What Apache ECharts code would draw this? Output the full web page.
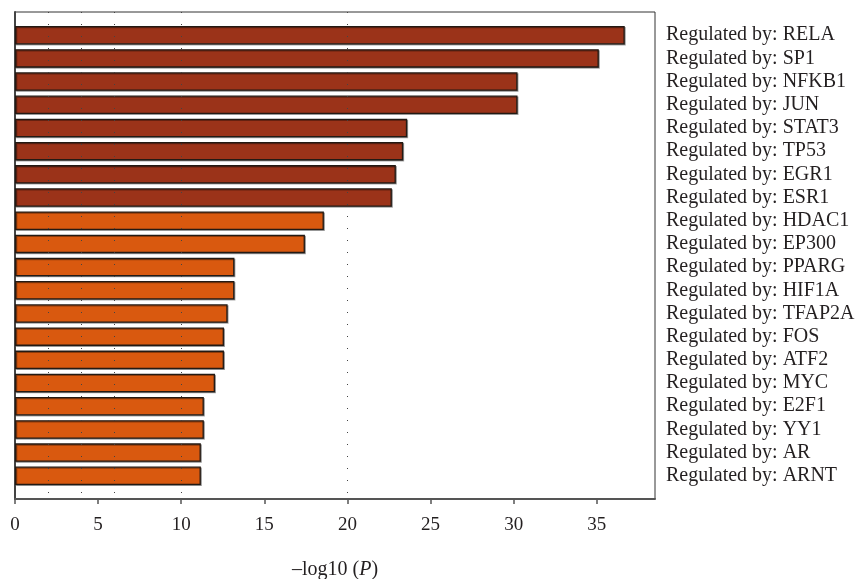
<!DOCTYPE html>
<html>
<head>
<meta charset="utf-8">
<script src="https://cdn.jsdelivr.net/npm/echarts@6/dist/echarts.min.js"></script>
<style>html,body{margin:0;padding:0;background:#fff;}#c{width:863px;height:579px;}</style>
</head>
<body>
<div id="c"></div>
<script>
var regulators = ['RELA','SP1','NFKB1','JUN','STAT3','TP53','EGR1','ESR1','HDAC1','EP300','PPARG','HIF1A','TFAP2A','FOS','ATF2','MYC','E2F1','YY1','AR','ARNT'];
var values = [36.68, 35.12, 30.23, 30.23, 23.59, 23.35, 22.91, 22.67, 18.58, 17.44, 13.2, 13.2, 12.79, 12.57, 12.57, 12.03, 11.36, 11.36, 11.18, 11.18];
var groups = [1,1,1,1,1,1,1,1,2,2,2,2,2,2,2,2,2,2,2,2];
var gridLineValues = [2, 4, 6, 10, 20];
var xTicks = [0, 5, 10, 15, 20, 25, 30, 35];

var groupColors = {1: '#9B3319', 2: '#D9590F'};
var cats = [''].concat(regulators.map(function(r){ return 'Regulated by: ' + r; })).concat(['']);
var barData = [{value: '-'}].concat(values.map(function(v, i){
  return {value: v, itemStyle: {color: groupColors[groups[i]]}};
})).concat([{value: '-'}]);

var font = '"Liberation Serif", "DejaVu Serif", serif';
var chart = echarts.init(document.getElementById('c'), null, {renderer: 'canvas'});
chart.setOption({
  animation: false,
  backgroundColor: '#fff',
  grid: {left: 15, right: 208, top: 12, bottom: 80, show: true, borderColor: '#333', borderWidth: 1, containLabel: false, outerBoundsMode: 'none'},
  xAxis: {
    type: 'value', min: 0, max: 38.5, interval: 5,
    axisLine: {show: true, lineStyle: {color: '#555', width: 2}},
    axisTick: {show: true, length: 5, lineStyle: {color: '#555', width: 1.5}},
    axisLabel: {fontFamily: font, fontSize: 19, color: '#231f20', margin: 17,
      formatter: function(v){ return xTicks.indexOf(v) >= 0 ? String(v) : ''; }, showMaxLabel: false},
    splitLine: {show: false},
    name: '{n|\u2013log10 (}{i|P}{n|)}',
    nameLocation: 'middle', nameGap: 61,
    nameTextStyle: {rich: {
      n: {fontFamily: font, fontSize: 20, color: '#231f20'},
      i: {fontFamily: font, fontSize: 20, color: '#231f20', fontStyle: 'italic'}
    }}
  },
  yAxis: [{
    type: 'category', data: cats, inverse: true, boundaryGap: false, position: 'right',
    axisLine: {show: false}, axisTick: {show: false},
    axisLabel: {fontFamily: font, fontSize: 20, color: '#231f20', margin: 11, interval: 0},
    splitLine: {show: false}
  }, {
    type: 'category', data: cats, inverse: true, boundaryGap: false, position: 'left',
    axisLine: {show: true, lineStyle: {color: '#444', width: 2}}, axisTick: {show: false},
    axisLabel: {show: false}, splitLine: {show: false}
  }],
  series: [{
    type: 'bar', data: barData, barWidth: 18.5, z: 3,
    itemStyle: {borderColor: '#231a14', borderWidth: 1.3, shadowColor: 'rgba(0,0,0,0.35)', shadowOffsetX: 1, shadowOffsetY: 1, shadowBlur: 0}
  }, {
    type: 'line', data: [], z: 1, silent: true,
    markLine: {
      silent: true, symbol: 'none', label: {show: false},
      lineStyle: {type: [1, 11], color: '#444', width: 1},
      data: gridLineValues.map(function(v){ return {xAxis: v}; })
    }
  }]
});
</script>
</body>
</html>
